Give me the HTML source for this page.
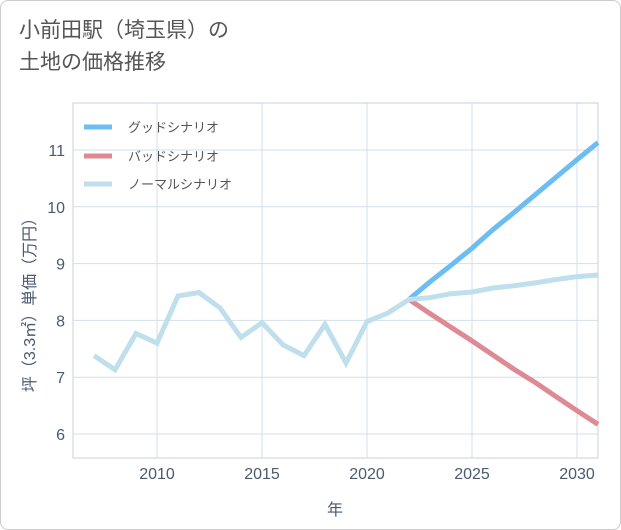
<!DOCTYPE html>
<html><head><meta charset="utf-8"><style>
body{margin:0;background:#fff;}
#wrap{position:relative;width:619px;height:528px;border:1px solid #ccc;border-radius:8px;background:#fff;font-family:"Liberation Sans","Noto Sans CJK JP",sans-serif;overflow:hidden}
#title{position:absolute;left:18px;top:14px;font-size:21px;line-height:32px;color:#555;font-family:"Liberation Sans","Noto Sans CJK JP",sans-serif}
svg{position:absolute;left:0;top:0}
</style></head><body>
<div id="wrap">
<div id="title">小前田駅（埼玉県）の<br>土地の価格推移</div>
<svg id="chart" width="621" height="530"></svg>
</div>
<script>
const years=[2007,2008,2009,2010,2011,2012,2013,2014,2015,2016,2017,2018,2019,2020,2021,2022,2023,2024,2025,2026,2027,2028,2029,2030,2031];
const normalVals=[7.38,7.13,7.77,7.6,8.43,8.49,8.22,7.7,7.96,7.57,7.38,7.93,7.25,7.98,8.13,8.37,8.4,8.47,8.5,8.57,8.61,8.66,8.72,8.77,8.8];
const futureYears=[2022,2023,2024,2025,2026,2027,2028,2029,2030,2031];
const goodVals=[8.37,8.68,8.97,9.27,9.6,9.9,10.21,10.52,10.83,11.13];
const badVals=[8.37,8.12,7.88,7.64,7.39,7.14,6.91,6.66,6.41,6.17];
const xTicks=[2010,2015,2020,2025,2030];
const yTicks=[6,7,8,9,10,11];
const L=72,R=597,T=102,B=457;
const x=v=>156+(v-2010)*21;
const y=v=>149+(11-v)*56.8;
const svg=document.getElementById('chart');
const NS='http://www.w3.org/2000/svg';
function mk(t,a){const e=document.createElementNS(NS,t);for(const k in a)e.setAttribute(k,a[k]);svg.appendChild(e);return e;}
let fr=mk('rect',{x:L,y:T,width:R-L,height:B-T,fill:'none',stroke:'#c8d2dc'});


xTicks.forEach(v=>{
 let g=mk('line',{x1:x(v),x2:x(v),y1:T,y2:B,stroke:'#d3dfe9'});
 
 
 let t=mk('text',{x:x(v),y:478,'text-anchor':'middle','font-size':16,fill:'#4a5a70'});t.textContent=v;
 
 
});
yTicks.forEach(v=>{
 let g=mk('line',{x1:L,x2:R,y1:y(v),y2:y(v),stroke:'#d3dfe9'});
 
 
 let t=mk('text',{x:64,y:y(v)+6,'text-anchor':'end','font-size':16,fill:'#4a5a70'});t.textContent=v;
 
 
});
function line(xs,vs,c,n){
 let p=mk('polyline',{points:xs.map((X,i)=>x(X)+','+y(vs[i])).join(' '),fill:'none',stroke:c,'stroke-width':5,'stroke-linejoin':'miter'});
 
 
}
line(futureYears,goodVals,'#6bbdf2','good-scenario-line');
line(futureYears,badVals,'#de8a92','bad-scenario-line');
line(years,normalVals,'#bfdfec','normal-scenario-line');
[['グッドシナリオ','#6bbdf2',126],['バッドシナリオ','#de8a92',155],['ノーマルシナリオ','#bfdfec',183]].forEach(([s,c,yy])=>{
 let l=mk('line',{x1:83,x2:111,y1:yy,y2:yy,stroke:c,'stroke-width':5});
 
 
 let t=mk('text',{x:127,y:yy+5,'font-size':13,fill:'#555'});t.textContent=s;
 
 
});
let xt=mk('text',{x:334,y:514,'text-anchor':'middle','font-size':16,fill:'#4a5a70'});xt.textContent='年';


let yt=mk('text',{x:0,y:0,'text-anchor':'middle','font-size':16,fill:'#4a5a70',transform:'translate(34,300) rotate(-90)'});yt.textContent='坪（3.3㎡）単価（万円）';


</script>
</body></html>
